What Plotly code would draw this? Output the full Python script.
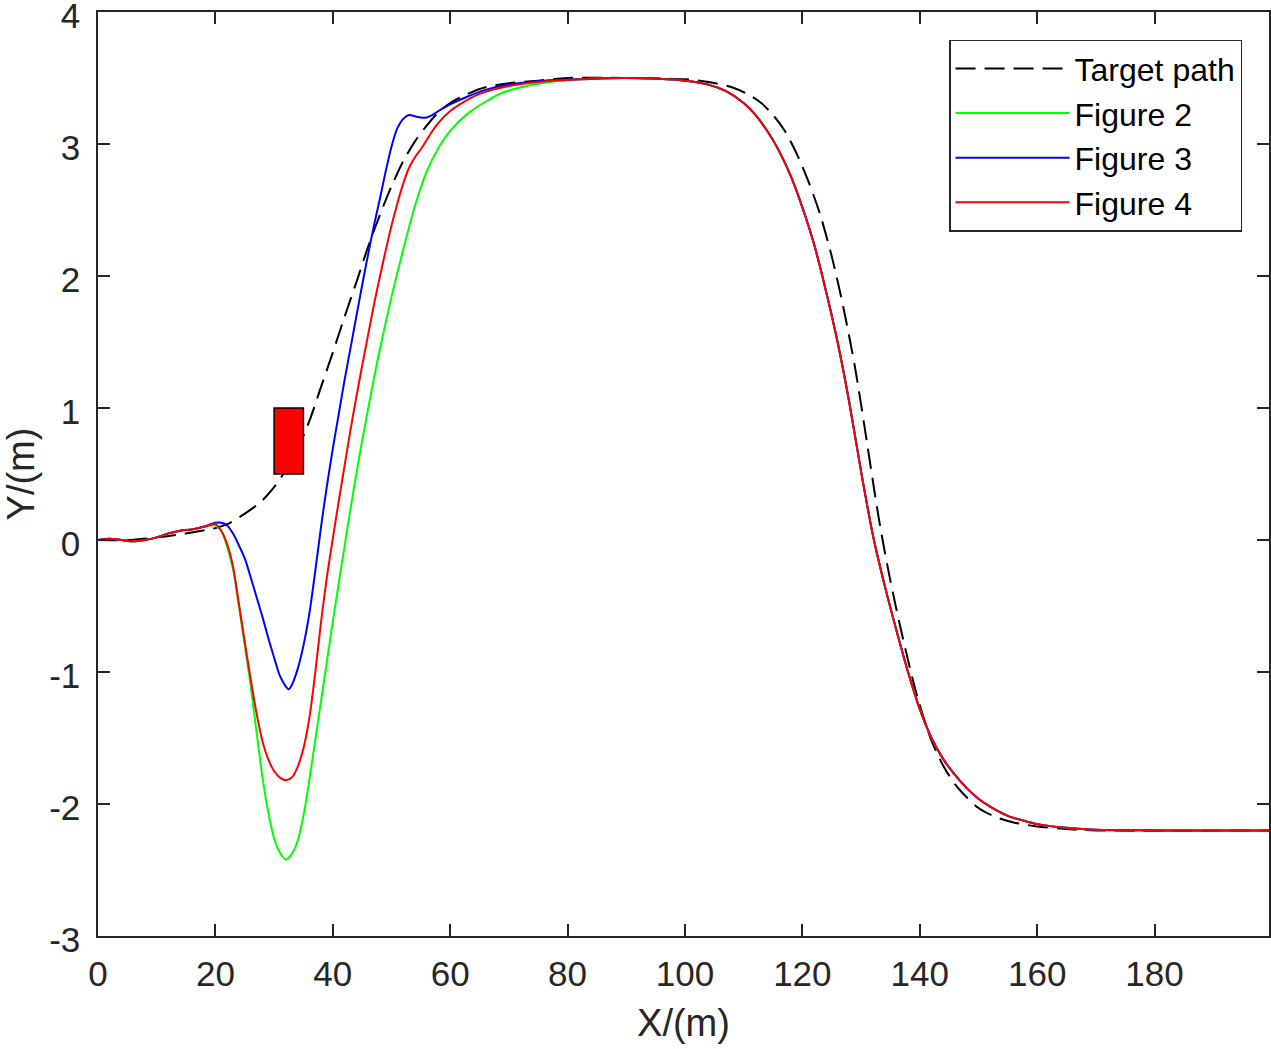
import plotly.graph_objects as go

# common descent of the three controller paths (they overlap there)
descent_x = [82, 90, 100, 104, 107, 110, 112, 114, 116, 118, 120, 122, 124, 126, 128, 130,
             132, 134, 136, 138, 140, 142, 144, 146, 148, 150, 152, 155, 158, 161, 165, 170, 180, 199.5]
descent_y = [3.49, 3.50, 3.48, 3.45, 3.40, 3.31, 3.22, 3.10, 2.95, 2.76, 2.52, 2.24, 1.89, 1.50, 1.04, 0.52,
             0.04, -0.34, -0.68, -1.00, -1.28, -1.50, -1.66, -1.78, -1.88, -1.96, -2.02, -2.09, -2.13, -2.16, -2.18, -2.195, -2.2, -2.2]

start_x = [0, 2, 4, 6, 8, 10, 12, 14, 16, 18]
start_y = [0.0, 0.01, 0.0, -0.01, 0.0, 0.02, 0.05, 0.07, 0.08, 0.10]

target_x = [0, 5, 10, 15, 20, 22, 24, 26, 28, 30, 32, 34, 36, 38, 40, 42, 44, 46, 48, 50, 52, 54, 56, 58,
            60, 63, 66, 70, 75, 80, 90, 100, 104, 108, 111, 113, 115, 117, 119, 121, 123, 125, 127, 129,
            131, 132, 133, 134, 135, 136, 137, 138, 139, 140, 142, 144, 146, 148, 150, 153, 156, 160, 165, 170, 199.5]
target_y = [0.0, 0.0, 0.02, 0.05, 0.09, 0.12, 0.17, 0.23, 0.30, 0.40, 0.53, 0.69, 0.90, 1.16, 1.42, 1.69, 1.95, 2.22, 2.46, 2.68, 2.87, 3.02, 3.14, 3.24,
            3.31, 3.38, 3.43, 3.46, 3.48, 3.50, 3.50, 3.49, 3.47, 3.43, 3.37, 3.31, 3.22, 3.10, 2.93, 2.72, 2.47, 2.15, 1.76, 1.30,
            0.74, 0.45, 0.17, -0.08, -0.31, -0.52, -0.72, -0.91, -1.09, -1.25, -1.52, -1.71, -1.85, -1.95, -2.03, -2.10, -2.14, -2.17, -2.19, -2.2, -2.2]

fig2_x = start_x + [20, 21, 22, 23, 24, 25, 26, 27, 28, 29, 30, 31, 32, 33, 34, 35, 36, 37, 38, 39, 40, 41, 42, 43, 44,
                    45, 46, 47, 48, 50, 52, 54, 56, 58, 60, 63, 66, 69, 73, 77] + descent_x
fig2_y = start_y + [0.11, 0.07, -0.05, -0.22, -0.50, -0.80, -1.10, -1.45, -1.79, -2.06, -2.26, -2.37, -2.42, -2.38, -2.28, -2.09, -1.82, -1.52, -1.22, -0.92, -0.62, -0.33, -0.05, 0.23, 0.50,
                    0.75, 0.99, 1.22, 1.44, 1.84, 2.20, 2.53, 2.79, 2.97, 3.10, 3.23, 3.32, 3.39, 3.44, 3.47] + descent_y

fig3_x = start_x + [20, 21, 22, 23, 24, 25, 26, 27, 28, 29, 30, 31, 32, 32.5, 33, 34, 35, 36, 37, 38, 39, 40, 41, 42, 43, 44,
                    45, 46, 47, 48, 49, 50, 51, 52, 53, 54, 55, 56, 57, 58, 60, 63, 66, 70, 76] + descent_x
fig3_y = start_y + [0.13, 0.13, 0.11, 0.05, -0.04, -0.14, -0.28, -0.43, -0.58, -0.74, -0.89, -1.03, -1.11, -1.13, -1.10, -0.98, -0.80, -0.56, -0.24, 0.10, 0.41, 0.69, 0.95, 1.21, 1.45, 1.69,
                    1.93, 2.16, 2.38, 2.58, 2.79, 2.98, 3.12, 3.19, 3.22, 3.21, 3.20, 3.20, 3.22, 3.25, 3.30, 3.36, 3.41, 3.45, 3.48] + descent_y

fig4_x = start_x + [20, 21, 22, 23, 24, 25, 26, 27, 28, 29, 30, 31, 32, 33, 34, 35, 36, 37, 38, 39, 40, 41, 42, 43, 44,
                    45, 46, 47, 48, 49, 50, 51, 52, 53, 54, 55, 56, 57, 58, 60, 62, 65, 70, 75] + descent_x
fig4_y = start_y + [0.12, 0.07, -0.03, -0.20, -0.48, -0.77, -1.05, -1.31, -1.52, -1.66, -1.75, -1.80, -1.82, -1.80, -1.72, -1.58, -1.35, -1.01, -0.62, -0.28, 0.01, 0.29, 0.56, 0.83, 1.08,
                    1.32, 1.55, 1.78, 1.99, 2.19, 2.38, 2.55, 2.70, 2.82, 2.90, 2.96, 3.03, 3.10, 3.16, 3.25, 3.31, 3.38, 3.44, 3.47] + descent_y

# obstacle rectangle: x0, x1, y0, y1
obstacle = [30, 35, 0.5, 1.0]

x_ticks = [0, 20, 40, 60, 80, 100, 120, 140, 160, 180]
y_ticks = [-3, -2, -1, 0, 1, 2, 3, 4]
y_ticktext = ["-3", "-2", "-1", "0", "1", "2", "3", "4"]

fig = go.Figure()
fig.add_trace(go.Scatter(x=target_x, y=target_y, mode="lines", name="Target path",
                         line=dict(color="black", width=2, dash="20px,9px", shape="spline", smoothing=0.8)))
fig.add_trace(go.Scatter(x=fig2_x, y=fig2_y, mode="lines", name="Figure 2",
                         line=dict(color="#00ff00", width=2, shape="spline", smoothing=0.8)))
fig.add_trace(go.Scatter(x=fig3_x, y=fig3_y, mode="lines", name="Figure 3",
                         line=dict(color="#0000ff", width=2, shape="spline", smoothing=0.8)))
fig.add_trace(go.Scatter(x=fig4_x, y=fig4_y, mode="lines", name="Figure 4",
                         line=dict(color="#ff0000", width=2, shape="spline", smoothing=0.8)))

fig.add_shape(type="rect", xref="x", yref="y",
              x0=obstacle[0], x1=obstacle[1], y0=obstacle[2], y1=obstacle[3],
              fillcolor="#ff0000", line=dict(color="black", width=1.5))

axis_style = dict(showline=True, linecolor="#262626", linewidth=1.5, mirror="ticks",
                  ticks="inside", ticklen=12, tickwidth=1.5, tickcolor="#262626",
                  showgrid=False, zeroline=False, automargin=False,
                  ticklabeloverflow="allow",
                  tickfont=dict(size=35, color="#262626"))

fig.update_layout(
    width=1271, height=1049,
    margin=dict(l=98, r=2, t=12, b=113),
    plot_bgcolor="white", paper_bgcolor="white",
    font=dict(family="Liberation Sans, Arial, sans-serif", color="#262626"),
    xaxis=dict(range=[0, 199.5], tickvals=x_ticks, ticklabelstandoff=6,
               title=dict(text="X/(m)", font=dict(size=38, color="#262626"), standoff=18),
               **axis_style),
    yaxis=dict(range=[-3, 4], tickvals=y_ticks, ticktext=y_ticktext,
               ticklabelstandoff=9, ticklabelshift=4,
               title=dict(text="Y/(m)", font=dict(size=38, color="#262626"), standoff=5),
               **axis_style),
    legend=dict(x=0.977, y=0.970, xanchor="right", yanchor="top",
                bgcolor="white", bordercolor="#262626", borderwidth=1.5,
                font=dict(size=32, color="black"), itemwidth=114),
    showlegend=True,
)

# drop the default page margin so the figure sits at the window's corner
fig.write_html("out.html", config={"displayModeBar": False},
               post_script="document.body.style.margin='0px';")
